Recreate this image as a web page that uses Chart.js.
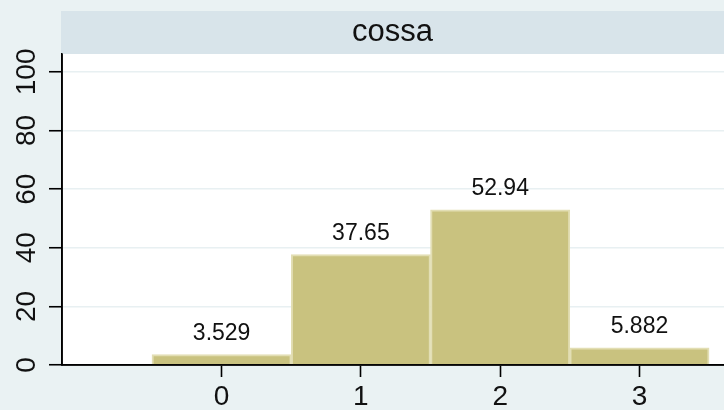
<!DOCTYPE html>
<html><head><meta charset="utf-8">
<script src="https://cdn.jsdelivr.net/npm/chart.js@4/dist/chart.umd.min.js"></script>
<style>html,body{margin:0;padding:0;background:rgb(234,242,243);overflow:hidden}</style>
</head><body>
<canvas id="c" width="724" height="410"></canvas>
<script>
const panelTitle = "cossa";
const categories = [0, 1, 2, 3];
const percents = [3.529, 37.65, 52.94, 5.882];
const valueLabels = ["3.529", "37.65", "52.94", "5.882"];
const yTicks = [0, 20, 40, 60, 80, 100];
const xTicks = [0, 1, 2, 3];

const FONT = '"Liberation Sans", Arial, Helvetica, sans-serif';
const BG = 'rgb(234,242,243)';

const decor = {
  id: 'decor',
  beforeDraw(chart) {
    const ctx = chart.ctx;
    const a = chart.chartArea;
    ctx.save();
    ctx.fillStyle = BG;
    ctx.fillRect(0, 0, chart.width, chart.height);
    ctx.fillStyle = 'rgb(216,228,234)';
    ctx.fillRect(a.left - 1, 11, chart.width - a.left + 1, a.top - 11);
    ctx.fillStyle = '#ffffff';
    ctx.fillRect(a.left, a.top, a.right - a.left, a.bottom - a.top);
    ctx.fillStyle = '#111';
    ctx.font = '31px ' + FONT;
    ctx.textAlign = 'center';
    ctx.textBaseline = 'middle';
    ctx.fillText(panelTitle, (a.left - 1 + chart.width) / 2, 32);
    ctx.restore();
  },
  afterDatasetsDraw(chart) {
    const ctx = chart.ctx;
    const a = chart.chartArea;
    const xs = chart.scales.x, ys = chart.scales.y;
    ctx.save();
    ctx.fillStyle = '#111';
    ctx.font = '23px ' + FONT;
    ctx.textAlign = 'center';
    ctx.textBaseline = 'middle';
    categories.forEach((c, i) => {
      ctx.fillText(valueLabels[i], xs.getPixelForValue(c), ys.getPixelForValue(percents[i]) - 21);
    });
    ctx.strokeStyle = '#000';
    ctx.lineWidth = 1.6;
    ctx.beginPath();
    ctx.moveTo(a.left, a.top);
    ctx.lineTo(a.left, a.bottom);
    ctx.lineTo(a.right, a.bottom);
    ctx.stroke();
    ctx.font = '28px ' + FONT;
    ctx.fillStyle = '#111';
    yTicks.forEach(t => {
      const y = ys.getPixelForValue(t);
      ctx.save();
      ctx.translate(27, y);
      ctx.rotate(-Math.PI / 2);
      ctx.textAlign = 'center';
      ctx.textBaseline = 'middle';
      ctx.fillText(String(t), 0, 0);
      ctx.restore();
    });
    ctx.restore();
  }
};

new Chart(document.getElementById('c'), {
  type: 'bar',
  data: {
    datasets: [{
      data: categories.map((c, i) => ({ x: c, y: percents[i] })),
      backgroundColor: 'rgb(201,194,127)',
      borderColor: 'rgb(226,222,180)',
      borderWidth: 2,
      barPercentage: 1,
      categoryPercentage: 1
    }]
  },
  options: {
    responsive: false,
    devicePixelRatio: 1,
    animation: false,
    layout: { padding: { top: 54, left: 0, right: 0, bottom: 0 } },
    plugins: { legend: { display: false }, tooltip: { enabled: false }, title: { display: false } },
    scales: {
      x: {
        type: 'linear',
        offset: false,
        min: -1.146,
        max: 3.607,
        afterBuildTicks: s => { s.ticks = xTicks.map(v => ({ value: v })); },
        afterFit: s => { s.height = 45; },
        grid: { offset: false, drawOnChartArea: false, tickLength: 12, tickColor: '#000', tickWidth: 1.6 },
        border: { display: true, color: '#000', width: 1.6 },
        ticks: { font: { family: FONT, size: 28 }, color: '#111', padding: 3, maxRotation: 0, autoSkip: false }
      },
      y: {
        min: 0,
        max: 106.1,
        afterBuildTicks: s => { s.ticks = yTicks.map(v => ({ value: v })); },
        afterFit: s => { s.width = 62; },
        grid: { color: 'rgb(232,240,242)', lineWidth: 1.5, tickLength: 13, tickColor: '#000', tickWidth: 1.6 },
        border: { display: true, color: '#000', width: 1.6 },
        ticks: { display: false }
      }
    }
  },
  plugins: [decor]
});
</script>
</body></html>
